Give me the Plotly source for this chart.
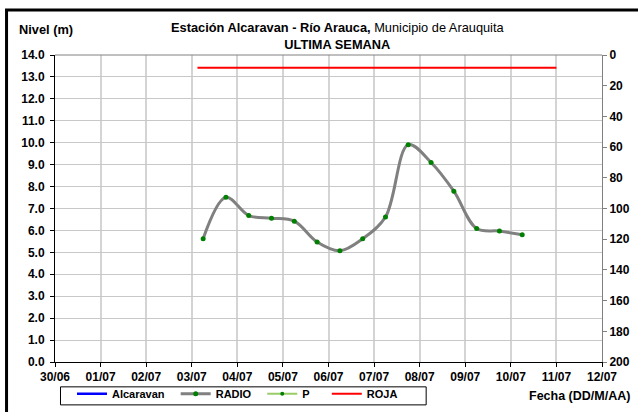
import pandas as pd
import plotly.graph_objects as go

# RADIO readings, every 12 h
radio_time = pd.date_range('2021-07-03 06:00', periods=15, freq='12h')
radio_level = [5.62, 7.51, 6.68, 6.56, 6.42, 5.47, 5.07, 5.62, 6.61, 9.91,
               9.10, 7.79, 6.09, 5.97, 5.80]

roja_time = pd.to_datetime(['2021-07-03 03:00', '2021-07-11 00:00'])
roja_level = [13.42, 13.42]

tick_days = pd.date_range('2021-06-30', '2021-07-12', freq='D')

FONT = 'Liberation Sans'
W, H = 638, 412
L, R, T, B = 55, 35.5, 55.3, 50.3
pw, ph = W - L - R, H - T - B
PAD = '\u00a0\u00a0'


def px_x(x):
    return (x - L) / pw


def px_y(y):
    return (H - B - y) / ph


fig = go.Figure()
fig.add_trace(go.Scatter(x=[tick_days[0]], y=[None], name='Alcaravan' + PAD, mode='lines',
                         line=dict(color='#0000ff', width=2.5)))
fig.add_trace(go.Scatter(x=radio_time, y=radio_level, name='RADIO' + PAD, mode='lines+markers',
                         line=dict(color='#808080', width=3, shape='spline', smoothing=1),
                         marker=dict(color='#008000', size=5)))
fig.add_trace(go.Scatter(x=[tick_days[0]], y=[None], name='P' + PAD + '\u00a0\u00a0', mode='lines+markers',
                         yaxis='y2', line=dict(color='#99cc66', width=2),
                         marker=dict(color='#008000', size=4)))
fig.add_trace(go.Scatter(x=roja_time, y=roja_level, name='ROJA', mode='lines',
                         line=dict(color='#ff0000', width=2)))

tickfont = dict(family=FONT, size=12, color='black', weight='bold')
fig.update_layout(
    width=W, height=H,
    margin=dict(l=L, r=R, t=T, b=B, autoexpand=False),
    paper_bgcolor='white', plot_bgcolor='white',
    font=dict(family=FONT, size=12, color='black'),
    xaxis=dict(type='date', range=[tick_days[0], tick_days[-1]],
               tickvals=tick_days, ticktext=[d.strftime('%d/%m') for d in tick_days],
               tickfont=tickfont, ticks='outside', ticklen=4, tickcolor='black',
               showline=True, linecolor='black', linewidth=1,
               showgrid=True, gridcolor='#d4d4d4', gridwidth=1.5, zeroline=False),
    yaxis=dict(range=[0, 14], dtick=1, tickformat='.1f', tickfont=tickfont,
               ticks='outside', ticklen=4, tickcolor='black', ticklabelstandoff=3,
               showline=True, linecolor='black', linewidth=1,
               showgrid=True, gridcolor='#c8c8c8', gridwidth=1, zeroline=False),
    yaxis2=dict(overlaying='y', side='right', range=[200, 0], dtick=20,
                tickfont=tickfont, ticks='outside', ticklen=4, tickcolor='#808080',
                showline=True, linecolor='#808080', linewidth=1,
                showgrid=False, zeroline=False),
    legend=dict(orientation='h', x=px_x(72), y=px_y(379), xanchor='left', yanchor='top',
                bgcolor='rgba(0,0,0,0)', borderwidth=0,
                font=dict(family=FONT, size=11, weight='bold')),
    showlegend=True,
)

# chart frame, legend box and top plot edge
fig.add_shape(type='rect', xref='paper', yref='paper',
              x0=px_x(6.5), x1=1.2, y0=-0.4, y1=px_y(10.5),
              line=dict(color='black', width=3), layer='above')
fig.add_shape(type='rect', xref='paper', yref='paper',
              x0=px_x(60.5), x1=px_x(426.5), y0=px_y(404.5), y1=px_y(386.5),
              fillcolor='white', line=dict(color='black', width=1), layer='above')
fig.add_shape(type='line', xref='paper', yref='paper', x0=0, x1=1, y0=1, y1=1,
              line=dict(color='#808080', width=1))

fig.add_annotation(text='<b>Estación Alcaravan - Río Arauca,</b> Municipio de Arauquita<br><b>ULTIMA SEMANA</b>',
                   xref='paper', yref='paper', x=px_x(338), y=px_y(36), xanchor='center', yanchor='middle',
                   showarrow=False, font=dict(family=FONT, size=12.8))
fig.add_annotation(text='<b>Nivel (m)</b>', xref='paper', yref='paper',
                   x=px_x(17), y=px_y(30), xanchor='left', yanchor='middle',
                   showarrow=False, font=dict(family=FONT, size=12.8))
fig.add_annotation(text='<b>Fecha (DD/M/AA)</b>', xref='paper', yref='paper',
                   x=px_x(633), y=px_y(396), xanchor='right', yanchor='middle',
                   showarrow=False, font=dict(family=FONT, size=12.5))

fig.write_html('out.html', config={'displayModeBar': False},
               post_script="document.body.style.margin='0';")
